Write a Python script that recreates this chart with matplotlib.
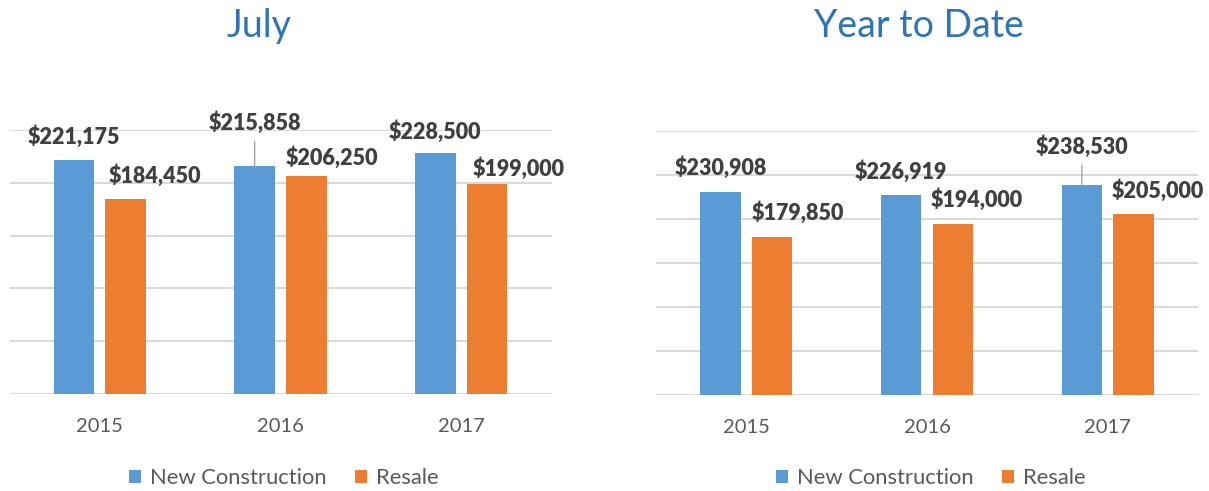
import matplotlib.pyplot as plt

years = ['2015', '2016', '2017']
july_new = [221175, 215858, 228500]
july_resale = [184450, 206250, 199000]
ytd_new = [230908, 226919, 238530]
ytd_resale = [179850, 194000, 205000]

blue = '#5B9BD5'
orange = '#ED7D31'
grid = '#D9D9D9'
text_gray = '#595959'
label_gray = '#404040'
title_blue = '#2E75B6'

plt.rcParams['font.family'] = ['Lato', 'DejaVu Sans']

fig = plt.figure(figsize=(12.09, 4.91), dpi=100)
W, H = 1209, 491


def box(x0, x1, ytop, ybot):
    return [x0 / W, 1 - ybot / H, (x1 - x0) / W, (ybot - ytop) / H]


ax1 = fig.add_axes(box(9.5, 551.5, 130, 394))
ax2 = fig.add_axes(box(656, 1198, 130.7, 395))

# label offsets in pixels (dx, dy) from bar top; leader line flags
july_new_off = [(0, 24), (0, 43), (0, 21)]
july_res_off = [(29, 24), (26, 19), (32, 15)]
ytd_new_off = [(0, 24), (0, 23), (0, 38)]
ytd_res_off = [(26, 24), (24, 24), (24, 24)]
july_lead = [False, True, False]
ytd_lead = [False, False, True]

w = 0.224
off = 0.143


def draw(ax, new, resale, top, new_off, res_off, lead):
    xs = list(range(len(years)))
    b1 = ax.bar([x - off for x in xs], new, w, color=blue, label='New Construction', zorder=2)
    b2 = ax.bar([x + off for x in xs], resale, w, color=orange, label='Resale', zorder=2)
    for rect, v, o, ld in zip(b1, new, new_off, lead):
        cx = rect.get_x() + rect.get_width() / 2
        ap = None
        if ld:
            ap = dict(arrowstyle='-', color='#A6A6A6', lw=1, shrinkA=3, shrinkB=0, relpos=(0.5, 0))
        ax.annotate('${:,}'.format(v), (cx, v), xytext=o, textcoords='offset pixels',
                    ha='center', va='center', fontsize=15.5, fontweight='heavy',
                    color=label_gray, arrowprops=ap)
    for rect, v, o in zip(b2, resale, res_off):
        cx = rect.get_x() + rect.get_width() / 2
        ax.annotate('${:,}'.format(v), (cx, v), xytext=o, textcoords='offset pixels',
                    ha='center', va='center', fontsize=15.5, fontweight='heavy',
                    color=label_gray)
    ax.set_xlim(-0.5, len(years) - 0.5)
    ax.set_ylim(0, top)
    ax.set_yticks(range(0, top + 1, 50000))
    ax.yaxis.grid(True, color=grid, lw=1.5)
    ax.set_axisbelow(True)
    ax.set_yticklabels([])
    ax.tick_params(axis='y', length=0)
    ax.set_xticks(xs)
    ax.set_xticklabels(years)
    ax.tick_params(axis='x', length=0, pad=17, labelsize=14.5, labelcolor=text_gray)
    for s in ax.spines.values():
        s.set_visible(False)


draw(ax1, july_new, july_resale, 250000, july_new_off, july_res_off, july_lead)
draw(ax2, ytd_new, ytd_resale, 300000, ytd_new_off, ytd_res_off, ytd_lead)

for ax, cx in ((ax1, 284), (ax2, 931)):
    ax.legend(loc='center', bbox_to_anchor=(cx / W, 1 - 478 / H), bbox_transform=fig.transFigure,
              ncol=2, frameon=False, fontsize=15.8, handlelength=0.55, handleheight=0.55,
              handletextpad=0.4, columnspacing=1.3, labelcolor=text_gray)

fig.text(259.5 / W, 1 - 37 / H, 'July', ha='center', va='baseline', fontsize=27, color=title_blue)
fig.text(919 / W, 1 - 37 / H, 'Year to Date', ha='center', va='baseline', fontsize=27, color=title_blue)

fig.savefig('out.png', dpi=100)
